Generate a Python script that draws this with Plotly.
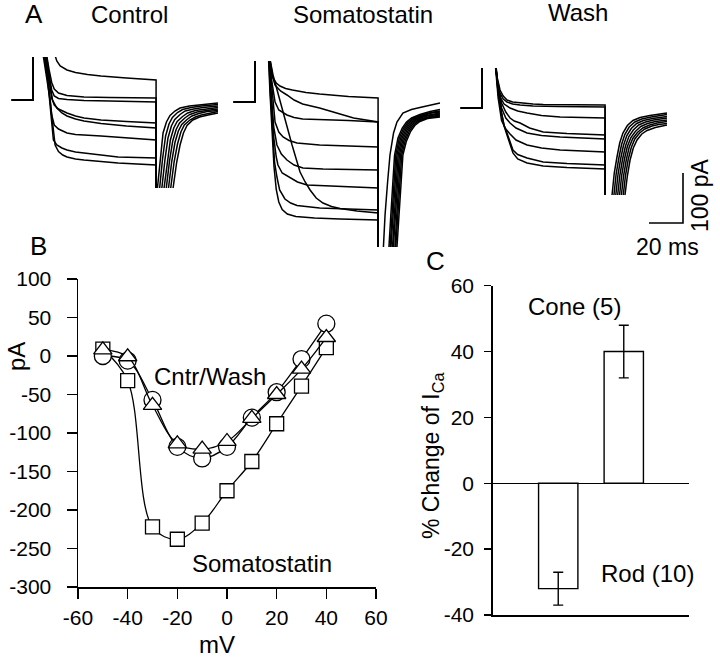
import plotly.graph_objects as go

W, H = 720, 660
FONT = "Liberation Sans, Arial, Helvetica, sans-serif"

# ---------------- Panel A : current sweeps (time in ms from step onset, current in pA) ----
BASELINE_T = [-12.5, 0.0]
BASELINE_I = [0.0, 0.0]
CAP_PA = 400.0          # off-scale capacitive transient at step onset
TAIL_JUMP_PA = -400.0   # off-scale jump at step offset
STEP_END_MS = 72.4

CTRL_STEP = [
    [(12, 100), (14, 78), (16, 68), (20, 60), (25, 55), (32, 51), (40, 48), (55, 44), (72.4, 40)],
    [(7.5, 100), (9.5, 60), (11, 35), (12.5, 22), (15, 14), (20, 9), (30, 6), (45, 5), (72.4, 4)],
    [(7.5, 100), (9.5, 50), (11, 20), (12.5, 8), (15, 3), (20, 1), (30, -1), (45, -2), (72.4, -4)],
    [(7, 100), (9.5, 40), (11, 4), (12.5, -10), (15, -18), (20, -26), (25, -32), (30, -36), (40, -40), (55, -43), (72.4, -46)],
    [(7, 100), (9.5, 40), (11.5, 0), (14, -16), (17, -26), (20, -32), (25, -38), (30, -42), (40, -47), (55, -52), (72.4, -56)],
    [(6.5, 100), (9, 40), (11, -30), (12.5, -50), (15, -58), (20, -66), (25, -69), (40, -72), (55, -76), (72.4, -80)],
    [(6, 100), (8.5, 45), (10.5, -20), (12, -80), (14, -90), (17, -96), (20, -100), (25, -104), (30, -106), (50, -114), (72.4, -116)],
    [(5.5, 100), (8, 45), (10, 0), (11.5, -45), (13, -90), (15, -103), (17.5, -110), (20, -114), (25, -118), (30, -120), (50, -126), (72.4, -130)],
]
CTRL_TAIL = [
    [(72.6, -260), (73.2, -176), (74.8, -115), (76.5, -66), (78.5, -44), (80.6, -31), (83.5, -22), (86.5, -16), (92, -12), (98, -10), (108.8, -6)],
    [(73.5, -260), (74.5, -176), (76.2, -118), (78, -72), (80, -48), (82, -35), (85, -25), (88, -19), (93, -15), (99, -12), (108.8, -9)],
    [(74.8, -260), (75.8, -176), (77.6, -120), (79.4, -76), (81.4, -52), (83.4, -39), (86.5, -29), (89.5, -22), (94.5, -18), (100, -15), (108.8, -12)],
    [(76, -260), (77.1, -176), (79, -120), (80.8, -80), (82.8, -56), (84.8, -43), (88, -33), (91, -26), (95.5, -21), (101, -18), (108.8, -15)],
    [(77.3, -260), (78.4, -176), (80.3, -122), (82.2, -82), (84.2, -59), (86.2, -46), (89.3, -36), (92.3, -29), (96.5, -24), (102, -21), (108.8, -18)],
    [(78.5, -260), (79.7, -176), (81.6, -123), (83.5, -85), (85.5, -62), (87.5, -49), (90.6, -39), (93.5, -32), (97.5, -27), (102.5, -23), (108.8, -21)],
    [(79.5, -260), (81, -176), (83, -124), (85, -88), (87, -64), (89, -50), (92.3, -40), (95.5, -34), (99, -30), (103, -27), (108.8, -23)],
    [(80.5, -260), (82.4, -176), (84.5, -125), (86.5, -90), (88.5, -66), (90.6, -51), (94, -40), (98, -34), (103, -30), (108.8, -26)],
]

SST_STEP = [
    [(8, 100), (10.6, 48), (12.5, 38), (14.7, 32), (18, 27), (22, 24), (30, 19), (38, 16), (55, 11), (72.4, 8)],
    [(8, 100), (9.5, 60), (11.8, 34), (15, 22), (18.8, 14), (23, 4), (28, -4), (33, -8), (38, -12), (48, -22), (58, -32), (72.4, -40)],
    [(8, 100), (9.5, 50), (11.8, 0), (14, -16), (18.8, -26), (23, -31), (28, -34), (40, -35), (55, -37), (72.4, -40)],
    [(8, 100), (9.5, 30), (11.8, -40), (14, -60), (16.5, -70), (20, -77), (24.7, -82), (38, -86), (55, -88), (72.4, -90)],
    [(8, 100), (9.5, 20), (11, -50), (12.9, -86), (15.5, -104), (18.8, -116), (23, -126), (28.2, -132), (40, -134), (72.4, -136)],
    [(8, 100), (9.5, 10), (11, -70), (12.5, -110), (13.5, -126), (16, -142), (20.6, -152), (25, -160), (30.6, -166), (45, -168), (72.4, -172)],
    [(8, 100), (10.6, 54), (16, -14), (21.8, -86), (26.5, -140), (29.5, -160), (32.4, -176), (36, -192), (40, -202), (45, -209), (50, -213), (60, -218), (72.4, -222)],
    [(8, 100), (9, 20), (10.2, -60), (11.5, -120), (12.9, -150), (14.5, -176), (17.6, -194), (21, -202), (24.7, -207), (38, -212), (55, -214), (72.4, -216)],
    [(7.8, 100), (8.8, 20), (10, -60), (11.2, -130), (12.5, -175), (14, -200), (16, -215), (19, -224), (24, -229), (35, -232), (50, -234), (72.4, -236)],
]
SST_TAIL = [
    [(74.5, -360), (75.5, -290), (76.5, -226), (78, -160), (79.4, -106), (81.5, -62), (83.5, -40), (87, -22), (92, -15), (97, -11), (103, -6), (108.8, -2)],
    [(77.6, -360), (78.6, -290), (79.9, -226), (81.1, -160), (82.1, -106), (84.1, -72), (86.6, -52), (89.1, -40), (92.1, -32), (97, -25), (103, -19), (108.8, -15)],
    [(78.3, -360), (79.3, -290), (80.6, -226), (81.8, -160), (82.8, -106), (84.8, -73), (87.3, -53), (89.8, -41), (92.8, -33), (98, -26), (103.5, -21), (108.8, -18)],
    [(79.0, -360), (80.0, -290), (81.3, -226), (82.5, -160), (83.5, -106), (85.5, -74), (88.0, -54), (90.5, -42), (93.5, -34), (98.6, -27), (104, -22), (108.8, -20)],
    [(79.7, -360), (80.7, -290), (82, -226), (83.2, -160), (84.2, -106), (86.2, -75), (88.7, -55), (91.2, -43), (94.2, -35), (99.2, -28), (104.5, -24), (108.8, -22)],
    [(80.4, -360), (81.4, -290), (82.7, -226), (83.9, -160), (84.9, -106), (86.9, -76), (89.4, -56), (91.9, -44), (94.9, -36), (99.8, -29), (105, -26), (108.8, -24)],
    [(81.1, -360), (82.1, -290), (83.4, -226), (84.6, -160), (85.6, -106), (87.6, -77), (90.1, -57), (92.6, -45), (95.6, -37), (100.4, -31), (105.5, -28), (108.8, -26)],
    [(81.8, -360), (82.8, -290), (84.1, -226), (85.3, -160), (86.3, -106), (88.3, -78), (90.8, -58), (93.3, -46), (96.3, -38), (101, -32), (106, -29), (108.8, -28)],
    [(82.5, -360), (83.5, -290), (84.8, -226), (86, -160), (87, -106), (89, -79), (91.5, -59), (94, -47), (97, -39), (101.5, -33), (106, -31), (108.8, -30)],
]

WASH_STEP = [
    [(7.5, 100), (9, 60), (10.6, 36), (12.5, 24), (14.7, 16), (18, 12), (22.4, 10), (30, 8), (36, 7), (55, 6), (72.4, 6)],
    [(7.5, 100), (9, 56), (10.6, 30), (12.5, 18), (14.7, 12), (18, 8), (22.4, 6), (30, 4), (45, 3), (72.4, 2)],
    [(7.5, 100), (9, 50), (11, 20), (13, 8), (16.5, 0), (21, -6), (26.5, -10), (35, -15), (46, -18), (72.4, -20)],
    [(7.5, 100), (9.5, 40), (11.5, 10), (14, -8), (16.5, -20), (19, -26), (22.4, -30), (28, -40), (36, -48), (50, -51), (72.4, -54)],
    [(7.5, 100), (9.5, 40), (11.5, 0), (14, -20), (16.5, -30), (20, -40), (26.5, -50), (35, -55), (46, -58), (72.4, -62)],
    [(7.5, 100), (9.5, 20), (11.5, -25), (14, -42), (16.5, -52), (20, -64), (26.5, -74), (35, -80), (46, -84), (72.4, -88)],
    [(7.5, 100), (9.5, 30), (11.5, -10), (13, -35), (14.7, -50), (16.5, -68), (18.2, -84), (21, -93), (26.5, -100), (36, -108), (50, -111), (72.4, -114)],
    [(7.5, 100), (9.5, 30), (11.5, -10), (13, -36), (14.7, -54), (16.5, -74), (18.2, -90), (21, -102), (26.5, -110), (36, -116), (50, -119), (72.4, -122)],
]
WASH_TAIL = [
    [(75.5, -260), (76.5, -174), (77.8, -130), (79.4, -98), (81, -70), (82.9, -50), (85.5, -35), (88.8, -25), (93, -19), (98.8, -15), (108.8, -10)],
    [(76.6, -260), (77.6, -174), (78.9, -132), (80.5, -100), (82.1, -73), (84, -53), (86.6, -38), (89.9, -28), (94, -22), (99.5, -18), (108.8, -13)],
    [(77.7, -260), (78.7, -174), (80, -133), (81.6, -101), (83.2, -75), (85.2, -55), (87.8, -41), (91, -31), (95, -25), (100.3, -21), (108.8, -17)],
    [(78.8, -260), (79.8, -174), (81.1, -134), (82.7, -102), (84.4, -76), (86.4, -57), (89, -44), (92.2, -34), (96.2, -28), (101, -24), (108.8, -20)],
    [(79.9, -260), (80.9, -174), (82.2, -134), (83.8, -102), (85.5, -77), (87.6, -59), (90.2, -47), (93.4, -37), (97.4, -31), (102, -27), (108.8, -24)],
    [(81, -260), (82, -174), (83.3, -135), (84.9, -103), (86.6, -78), (88.7, -61), (91.4, -49), (94.6, -40), (98.6, -34), (103, -30), (108.8, -27)],
    [(82, -260), (83.1, -174), (84.4, -135), (86, -103), (87.8, -79), (89.9, -62), (92.7, -50), (95.8, -42), (100, -36), (104, -33), (108.8, -31)],
    [(83, -260), (84.1, -174), (85.5, -136), (87.1, -104), (89, -80), (91.2, -64), (94, -52), (97.1, -45), (102, -39), (108.8, -34)],
]

PANEL_A_TITLES = ["Control", "Somatostatin", "Wash"]
SCALE_PA = 100
SCALE_MS = 20

# ---------------- Panel B : I-V relation ----------------
IV_MV = [-50, -40, -30, -20, -10, 0, 10, 20, 30, 40]
IV_CONTROL = [0, -6, -57, -118, -133, -118, -80, -47, -4, 42]
IV_WASH = [8, -1, -64, -114, -121, -111, -81, -50, -17, 24]
IV_SST = [9, -32, -222, -238, -217, -175, -137, -88, -39, 11]
B_XTICKS = [-60, -40, -20, 0, 20, 40, 60]
B_YTICKS = [100, 50, 0, -50, -100, -150, -200, -250, -300]

# ---------------- Panel C : % change of I_Ca ----------------
C_POS = [1, 2]
C_LABELS = ["Rod (10)", "Cone (5)"]
C_CHANGE = [-32, 40]
C_SEM = [5, 8]
C_YTICKS = [60, 40, 20, 0, -20, -40]

# ---------------- layout helpers (pixel geometry) ----------------
def xd(p0, p1):
    return [p0 / W, p1 / W]

def yd(top, bottom):
    return [1 - bottom / H, 1 - top / H]

def px(x):
    return x / W

def py(y):
    return 1 - y / H

PX_PER_MS = 1.7
PX_PER_PA = 0.5

fig = go.Figure()

A_GEOM = [
    ((5, 232), (57, 188), 33, 100),
    ((233, 455), (61, 247), 255, 102),
    ((456, 680), (68, 195), 482, 108),
]
A_DATA = [(CTRL_STEP, CTRL_TAIL), (SST_STEP, SST_TAIL), (WASH_STEP, WASH_TAIL)]

layout_axes = {}
for k, ((gx, gy, onset, base), (steps, tails)) in enumerate(zip(A_GEOM, A_DATA), start=1):
    xr = [(gx[0] - onset) / PX_PER_MS, (gx[1] - onset) / PX_PER_MS]
    yr = [(base - gy[1]) / PX_PER_PA, (base - gy[0]) / PX_PER_PA]
    sfx = "" if k == 1 else str(k)
    layout_axes["xaxis" + sfx] = dict(domain=xd(*gx), range=xr, visible=False,
                                      anchor="y" + sfx, automargin=False)
    layout_axes["yaxis" + sfx] = dict(domain=yd(*gy), range=yr, visible=False,
                                      anchor="x" + sfx, automargin=False)
    for st, tl in zip(steps, tails):
        t = BASELINE_T + [0.0] + [p[0] for p in st] + [STEP_END_MS] + [p[0] for p in tl]
        i = BASELINE_I + [CAP_PA] + [p[1] for p in st] + [TAIL_JUMP_PA] + [p[1] for p in tl]
        fig.add_trace(go.Scatter(x=t, y=i, mode="lines", xaxis="x" + sfx, yaxis="y" + sfx,
                                 line=dict(color="black", width=1.5), showlegend=False,
                                 hoverinfo="skip"))

# scale bar subplot (corner at px 683, 223)
sb_gx, sb_gy, sb_cx, sb_cy = (630, 705), (160, 240), 683, 223
layout_axes["xaxis4"] = dict(domain=xd(*sb_gx), visible=False, anchor="y4", automargin=False,
                             range=[(sb_gx[0] - sb_cx) / PX_PER_MS, (sb_gx[1] - sb_cx) / PX_PER_MS])
layout_axes["yaxis4"] = dict(domain=yd(*sb_gy), visible=False, anchor="x4", automargin=False,
                             range=[(sb_cy - sb_gy[1]) / PX_PER_PA, (sb_cy - sb_gy[0]) / PX_PER_PA])
fig.add_trace(go.Scatter(x=[-SCALE_MS, 0, 0], y=[0, 0, SCALE_PA], mode="lines",
                         xaxis="x4", yaxis="y4", line=dict(color="black", width=1.6),
                         showlegend=False, hoverinfo="skip"))

# panel B
axis_common = dict(showline=True, linecolor="black", linewidth=1.5, ticks="outside",
                   tickcolor="black", tickwidth=1.5, showgrid=False, automargin=False,
                   tickfont=dict(family=FONT, size=21, color="black"))
layout_axes["xaxis5"] = dict(domain=xd(78, 376), range=[-60, 60], anchor="y5", zeroline=False,
                             tickvals=B_XTICKS, ticktext=[str(v) for v in B_XTICKS],
                             ticklen=10, ticklabelstandoff=1, **axis_common)
layout_axes["yaxis5"] = dict(domain=yd(279, 587), range=[-300, 100], anchor="x5", zeroline=False,
                             tickvals=B_YTICKS, ticktext=[str(v) for v in B_YTICKS],
                             ticklen=10, ticklabelstandoff=11, **axis_common)

line_b = dict(color="black", width=1.3, shape="spline", smoothing=1.0)
fig.add_trace(go.Scatter(x=IV_MV, y=IV_SST, mode="lines+markers", xaxis="x5", yaxis="y5",
                         line=line_b, showlegend=False, cliponaxis=False,
                         marker=dict(symbol="square", size=14, color="white",
                                     line=dict(color="black", width=1.3))))
fig.add_trace(go.Scatter(x=IV_MV, y=IV_CONTROL, mode="lines+markers", xaxis="x5", yaxis="y5",
                         line=line_b, showlegend=False, cliponaxis=False,
                         marker=dict(symbol="circle", size=17, color="white",
                                     line=dict(color="black", width=1.3))))
fig.add_trace(go.Scatter(x=IV_MV, y=IV_WASH, mode="lines+markers", xaxis="x5", yaxis="y5",
                         line=line_b, showlegend=False, cliponaxis=False,
                         marker=dict(symbol="triangle-up", size=16, color="white",
                                     line=dict(color="black", width=1.3))))

# panel C
layout_axes["xaxis6"] = dict(domain=xd(492.7, 689.3), range=[0, 3], anchor="y6", automargin=False,
                             showline=True, linecolor="black", linewidth=1.5, ticks="",
                             showticklabels=False, showgrid=False, zeroline=False)
layout_axes["yaxis6"] = dict(domain=yd(285.7, 615), range=[-40, 60], anchor="x6",
                             tickvals=C_YTICKS, ticktext=[str(v) for v in C_YTICKS],
                             ticklen=7, ticklabelstandoff=6,
                             zeroline=True, zerolinecolor="black", zerolinewidth=1.4,
                             **axis_common)
fig.add_trace(go.Bar(x=C_POS, y=C_CHANGE, width=0.6, xaxis="x6", yaxis="y6",
                     marker=dict(color="white", line=dict(color="black", width=1.4)),
                     error_y=dict(type="data", array=C_SEM, color="black", thickness=1.4, width=5),
                     showlegend=False, hoverinfo="skip"))

# ---------------- text ----------------
def ann(text, x, y, size=24, angle=0):
    return dict(text=text, x=px(x), y=py(y), xref="paper", yref="paper", showarrow=False,
                xanchor="center", yanchor="middle", textangle=angle,
                font=dict(family=FONT, size=size, color="black"))

annotations = [
    ann("A", 34, 14, 26),
    ann(PANEL_A_TITLES[0], 129, 14),
    ann(PANEL_A_TITLES[1], 363, 14),
    ann(PANEL_A_TITLES[2], 577.5, 13),
    ann(f"{SCALE_PA} pA", 700, 195, 23, -90),
    ann(f"{SCALE_MS} ms", 667, 247, 23),
    ann("B", 38, 246, 26),
    ann("pA", 16, 357, 24, -90),
    ann("mV", 217, 644, 24),
    ann("Cntr/Wash", 210, 376, 24),
    ann("Somatostatin", 262, 563, 24),
    ann("C", 436, 261, 26),
    ann("% Change of I<sub>Ca</sub>", 432, 456, 23, -90),
    ann(C_LABELS[1], 574.5, 307, 24),
    ann(C_LABELS[0], 647, 573, 24),
]

fig.update_layout(width=W, height=H, margin=dict(l=0, r=0, t=0, b=0, autoexpand=False),
                  paper_bgcolor="white", plot_bgcolor="rgba(0,0,0,0)",
                  showlegend=False, annotations=annotations, bargap=0,
                  font=dict(family=FONT, color="black"), **layout_axes)

fig.write_html("out.html", config={"displayModeBar": False, "staticPlot": True},
               post_script="document.body.style.margin='0px';"
                           "document.body.style.overflow='hidden';")
